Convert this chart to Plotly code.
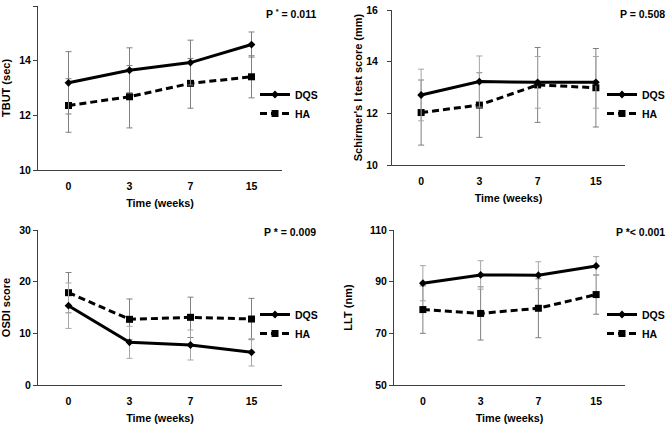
import plotly.graph_objects as go

weeks = ["0", "3", "7", "15"]

tbut_dqs = [13.19, 13.65, 13.93, 14.59]
tbut_dqs_err = [1.14, 0.82, 0.82, 0.46]
tbut_ha = [12.36, 12.68, 13.17, 13.41]
tbut_ha_err = [0.98, 1.14, 0.91, 0.77]

sch_dqs = [12.71, 13.23, 13.20, 13.20]
sch_dqs_err = [1.00, 0.99, 1.00, 1.00]
sch_ha = [12.03, 12.32, 13.10, 12.99]
sch_ha_err = [1.26, 1.25, 1.45, 1.52]

osdi_dqs = [15.35, 8.26, 7.74, 6.32]
osdi_dqs_err = [4.4, 3.1, 2.9, 2.64]
osdi_ha = [17.87, 12.71, 13.10, 12.77]
osdi_ha_err = [3.9, 3.94, 3.9, 4.0]

llt_dqs = [89.4, 92.6, 92.5, 96.1]
llt_dqs_err = [6.8, 5.5, 5.2, 3.6]
llt_ha = [79.2, 77.7, 79.7, 85.0]
llt_ha_err = [9.2, 10.3, 11.4, 7.6]

y_titles = ["TBUT (sec)", "Schirmer's I test score (mm)", "OSDI score", "LLT (nm)"]
p_texts = ["P <sup>*</sup> = 0.011", "P = 0.508", "P * = 0.009", "P *< 0.001"]
y_ranges = [(10, 16, 2), (10, 16, 2), (0, 30, 10), (50, 110, 20)]

W, H = 669, 427
def px_x(p): return p / W
def px_y(p): return 1 - p / H

panels = [
    dict(x=(38, 282), y=(6, 170), data=(tbut_dqs, tbut_dqs_err, tbut_ha, tbut_ha_err), dqs_err_col="#7f7f7f", tls=0, ts=None),
    dict(x=(392, 625), y=(10, 165), data=(sch_dqs, sch_dqs_err, sch_ha, sch_ha_err), dqs_err_col="#a6a6a6", tls=7, ts=1),
    dict(x=(38, 282), y=(230, 385), data=(osdi_dqs, osdi_dqs_err, osdi_ha, osdi_ha_err), dqs_err_col="#a6a6a6", tls=0, ts=None),
    dict(x=(394, 625), y=(230, 385), data=(llt_dqs, llt_dqs_err, llt_ha, llt_ha_err), dqs_err_col="#a6a6a6", tls=0, ts=None),
]
legend_pos = [(255, 80), (602, 80), (255, 300), (602, 300)]
p_pos = [(318, 13), (667, 14), (318, 232), (667, 232)]

font_family = "Liberation Sans, Arial, sans-serif"
fig = go.Figure()
layout = dict(width=W, height=H, margin=dict(l=0, r=0, t=0, b=0, autoexpand=False),
              paper_bgcolor="white", plot_bgcolor="white",
              font=dict(family=font_family, size=11, color="#000"))
annotations = []
for i, p in enumerate(panels):
    k = "" if i == 0 else str(i + 1)
    dqs, dqs_e, ha, ha_e = p["data"]
    leg = "legend" + k
    fig.add_trace(go.Scatter(
        x=weeks, y=ha, name="HA", mode="lines+markers",
        line=dict(color="black", width=3, dash="7px,4px"),
        marker=dict(symbol="square", size=7, color="black"),
        error_y=dict(type="data", array=ha_e, color="#7f7f7f", thickness=1, width=3),
        xaxis="x" + k, yaxis="y" + k, legend=leg, legendrank=2))
    fig.add_trace(go.Scatter(
        x=weeks, y=dqs, name="DQS", mode="lines+markers",
        line=dict(color="black", width=3),
        marker=dict(symbol="diamond", size=6, color="black"),
        error_y=dict(type="data", array=dqs_e, color=p["dqs_err_col"], thickness=1, width=3),
        xaxis="x" + k, yaxis="y" + k, legend=leg, legendrank=1))
    lo, hi, dt = y_ranges[i]
    layout["xaxis" + k] = dict(
        domain=[px_x(p["x"][0]), px_x(p["x"][1])], anchor="y" + k, type="category",
        categoryorder="array", categoryarray=weeks, range=[-0.5, 3.5], automargin=False,
        showline=True, linecolor="#404040", linewidth=1, ticks="", showgrid=False,
        zeroline=False, ticklabelstandoff=6,
        tickfont=dict(size=10.5, family=font_family, weight="bold"),
        title=dict(text="Time (weeks)", standoff=8, font=dict(size=10.8, weight="bold")))
    ytitle = dict(text=y_titles[i], font=dict(size=11, weight="bold"))
    if p["ts"] is not None:
        ytitle["standoff"] = p["ts"]
    layout["yaxis" + k] = dict(
        domain=[px_y(p["y"][1]), px_y(p["y"][0])], anchor="x" + k, automargin=False,
        range=[lo, hi], dtick=dt, tick0=lo, showline=True, linecolor="#404040", linewidth=1,
        ticks="outside", ticklen=4, tickcolor="#404040", showgrid=False, zeroline=False,
        ticklabelstandoff=p["tls"],
        tickfont=dict(size=10.5, family=font_family, weight="bold"),
        title=ytitle)
    lx, ly = legend_pos[i]
    layout[leg] = dict(x=px_x(lx), y=px_y(ly), xanchor="left", yanchor="top",
                       bgcolor="rgba(0,0,0,0)", borderwidth=0, tracegroupgap=0,
                       font=dict(size=10.5, family=font_family, weight="bold"),
                       itemwidth=30)
    ax, ay = p_pos[i]
    annotations.append(dict(text=p_texts[i], x=px_x(ax), y=px_y(ay),
                            xref="paper", yref="paper", xanchor="right", yanchor="middle",
                            showarrow=False, font=dict(size=10.5, family=font_family, weight="bold")))
layout["annotations"] = annotations
layout["showlegend"] = True
fig.update_layout(**layout)
fig.write_html("out.html", config={"displayModeBar": False},
               post_script="document.body.style.margin='0';")
